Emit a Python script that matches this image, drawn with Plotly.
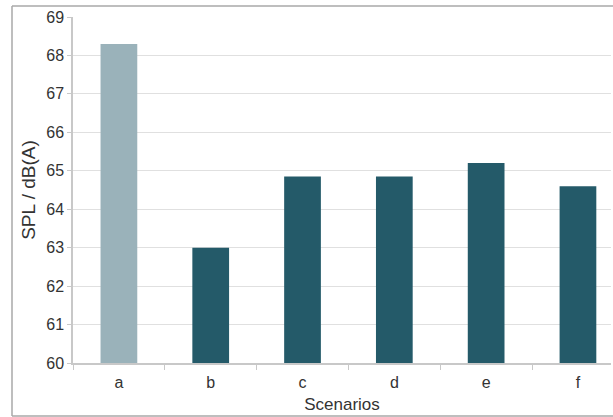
import plotly.graph_objects as go

scenarios = ["a", "b", "c", "d", "e", "f"]
spl_values = [68.3, 63.0, 64.85, 64.85, 65.2, 64.6]
y_ticks = [60, 61, 62, 63, 64, 65, 66, 67, 68, 69]

dark = "#245a69"

fig = go.Figure()

# reference scenario drawn with a fine dotted fill, others solid
fig.add_trace(go.Bar(
    x=scenarios[:1], y=spl_values[:1], width=0.4,
    marker=dict(color="#9fb6bd",
                line=dict(width=0),
                pattern=dict(shape=".", fgcolor="#8aa5ae", bgcolor="#a7bcc3",
                             size=2, solidity=0.5, fillmode="replace")),
    showlegend=False,
))
fig.add_trace(go.Bar(
    x=scenarios[1:], y=spl_values[1:], width=0.4,
    marker=dict(color=dark, line=dict(width=0)),
    showlegend=False,
))

W, H = 613, 417
ml, mr, mt, mb = 73, 2, 17, 54
pw, ph = W - ml - mr, H - mt - mb

def px(xp):
    return (xp - ml) / pw

def py(yp):
    return (H - mb - yp) / ph

frame = dict(color="#a8a8a8", width=1.5)

fig.update_layout(
    width=W, height=H,
    margin=dict(l=ml, r=mr, t=mt, b=mb),
    paper_bgcolor="white", plot_bgcolor="white",
    font=dict(family="Liberation Sans, Arial, sans-serif", color="#333333", size=16),
    bargap=0.6,
    xaxis=dict(
        type="category", range=[-0.5, 5.36],
        showgrid=False, showline=True, linecolor="#c8c8c8", linewidth=1.5,
        ticks="outside", ticklen=5, tickcolor="#c8c8c8", tickson="boundaries",
        tickfont=dict(size=16), ticklabelstandoff=4,
        title=dict(text="Scenarios", font=dict(size=17), standoff=8),
    ),
    yaxis=dict(
        range=[60, 69], tickvals=y_ticks,
        showgrid=True, gridcolor="#e0e0e0", gridwidth=1,
        showline=True, linecolor="#c8c8c8", linewidth=1.5,
        ticks="outside", ticklen=4, tickcolor="#c8c8c8",
        tickfont=dict(size=16),
        title=dict(text="SPL / dB(A)", font=dict(size=19), standoff=6),
        zeroline=False,
    ),
    shapes=[
        # outer frame: top, left and bottom edges
        dict(type="line", xref="paper", yref="paper",
             x0=px(12), x1=px(613), y0=py(6), y1=py(6), line=frame),
        dict(type="line", xref="paper", yref="paper",
             x0=px(12), x1=px(12), y0=py(6), y1=py(416), line=frame),
        dict(type="line", xref="paper", yref="paper",
             x0=px(12), x1=px(613), y0=py(416), y1=py(416), line=frame),
    ],
)

fig.write_html("out.html")
